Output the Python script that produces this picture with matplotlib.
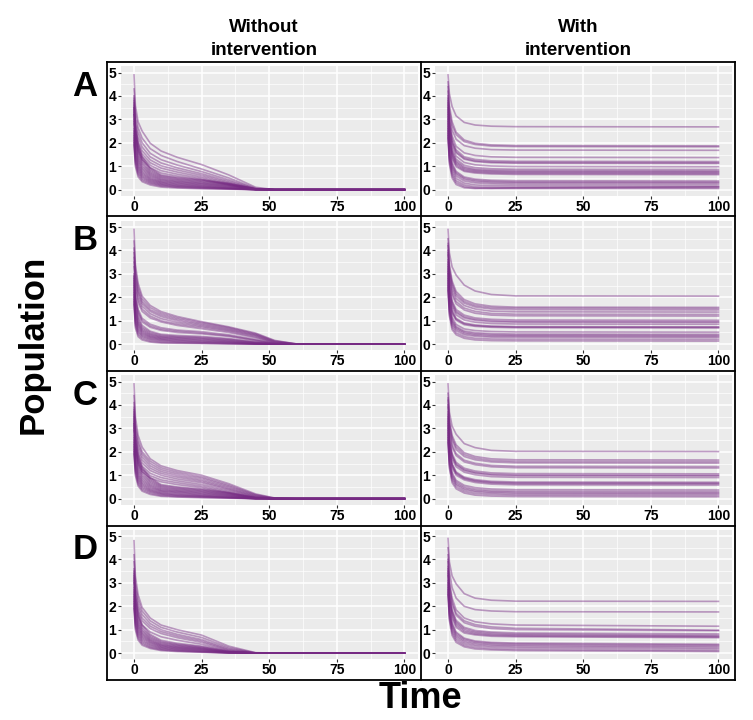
import matplotlib
matplotlib.use("Agg")
import matplotlib.pyplot as plt
from matplotlib.lines import Line2D

# Time points used for the trajectories
t_without = [0, 0.5, 1.5, 3, 6, 10, 16, 25, 35, 45, 52, 60, 100]
t_with = [0, 0.5, 1.5, 3, 6, 10, 16, 25, 100]

row_labels = ["A", "B", "C", "D"]
col_titles = ["Without\nintervention", "With\nintervention"]
x_ticks = [0, 25, 50, 75, 100]
y_ticks = [0, 1, 2, 3, 4, 5]

# Row A
A_without = [
    [4.9, 3.6, 2.9, 2.5, 1.98, 1.65, 1.38, 1.07, 0.63, 0.10, 0, 0, 0],
    [4.3, 3.3, 2.65, 2.2, 1.75, 1.46, 1.2, 0.88, 0.5, 0.06, 0, 0, 0],
    [4.0, 3.0, 2.45, 2.0, 1.55, 1.28, 1.05, 0.77, 0.42, 0.04, 0, 0, 0],
    [3.8, 2.8, 2.25, 1.82, 1.4, 1.14, 0.93, 0.68, 0.36, 0.03, 0, 0, 0],
    [3.6, 2.6, 2.05, 1.66, 1.27, 1.02, 0.84, 0.61, 0.31, 0.02, 0, 0, 0],
    [3.5, 2.5, 1.92, 1.52, 1.15, 0.92, 0.75, 0.54, 0.27, 0.02, 0, 0, 0],
    [3.3, 2.3, 1.78, 1.4, 1.04, 0.81, 0.66, 0.48, 0.23, 0.01, 0, 0, 0],
    [3.2, 2.2, 1.66, 1.28, 0.94, 0.71, 0.58, 0.43, 0.2, 0.01, 0, 0, 0],
    [3.9, 2.8, 2.0, 1.4, 0.92, 0.63, 0.52, 0.42, 0.27, 0.03, 0, 0, 0],
    [3.7, 2.6, 1.85, 1.3, 0.86, 0.59, 0.49, 0.39, 0.25, 0.03, 0, 0, 0],
    [3.5, 2.45, 1.72, 1.2, 0.8, 0.55, 0.45, 0.36, 0.23, 0.02, 0, 0, 0],
    [3.4, 2.3, 1.6, 1.12, 0.74, 0.51, 0.42, 0.33, 0.21, 0.02, 0, 0, 0],
    [3.2, 2.2, 1.5, 1.04, 0.69, 0.47, 0.38, 0.3, 0.19, 0.02, 0, 0, 0],
    [3.0, 2.05, 1.4, 0.96, 0.64, 0.43, 0.35, 0.27, 0.17, 0.01, 0, 0, 0],
    [2.9, 1.95, 1.3, 0.89, 0.59, 0.4, 0.32, 0.25, 0.15, 0.01, 0, 0, 0],
    [2.8, 1.85, 1.22, 0.82, 0.54, 0.36, 0.29, 0.22, 0.13, 0.01, 0, 0, 0],
    [2.6, 1.72, 1.12, 0.75, 0.49, 0.33, 0.26, 0.19, 0.11, 0.01, 0, 0, 0],
    [2.5, 1.6, 1.04, 0.69, 0.45, 0.3, 0.23, 0.17, 0.09, 0, 0, 0, 0],
    [2.4, 1.5, 0.96, 0.63, 0.41, 0.27, 0.2, 0.14, 0.07, 0, 0, 0, 0],
    [2.3, 1.4, 0.88, 0.57, 0.37, 0.24, 0.17, 0.12, 0.06, 0, 0, 0, 0],
    [2.2, 1.3, 0.8, 0.52, 0.33, 0.21, 0.15, 0.1, 0.05, 0, 0, 0, 0],
    [2.1, 1.2, 0.72, 0.46, 0.29, 0.18, 0.12, 0.08, 0.04, 0, 0, 0, 0],
    [2.0, 1.1, 0.64, 0.4, 0.25, 0.15, 0.1, 0.06, 0.03, 0, 0, 0, 0],
    [1.9, 1.0, 0.55, 0.34, 0.2, 0.11, 0.07, 0.04, 0.02, 0, 0, 0, 0],
]
A_with = [
    [4.9, 4.1, 3.55, 3.15, 2.87, 2.76, 2.71, 2.69, 2.68],
    [4.6, 3.6, 2.9, 2.45, 2.12, 1.98, 1.91, 1.88, 1.87],
    [4.4, 3.4, 2.75, 2.35, 2.05, 1.93, 1.86, 1.84, 1.83],
    [4.2, 3.2, 2.55, 2.15, 1.88, 1.77, 1.71, 1.69, 1.68],
    [4.0, 3.0, 2.3, 1.85, 1.57, 1.46, 1.4, 1.38, 1.37],
    [3.9, 2.9, 2.15, 1.7, 1.4, 1.29, 1.23, 1.21, 1.2],
    [3.8, 2.8, 2.05, 1.62, 1.34, 1.23, 1.18, 1.16, 1.15],
    [3.7, 2.7, 1.98, 1.57, 1.3, 1.2, 1.15, 1.13, 1.12],
    [3.6, 2.6, 1.85, 1.43, 1.16, 1.06, 1.01, 0.99, 0.98],
    [3.5, 2.45, 1.7, 1.3, 1.04, 0.94, 0.89, 0.87, 0.86],
    [3.4, 2.35, 1.62, 1.22, 0.97, 0.87, 0.83, 0.81, 0.8],
    [3.3, 2.25, 1.55, 1.16, 0.92, 0.83, 0.79, 0.77, 0.76],
    [3.2, 2.15, 1.48, 1.1, 0.87, 0.79, 0.75, 0.73, 0.72],
    [3.1, 2.05, 1.4, 1.04, 0.82, 0.75, 0.71, 0.69, 0.68],
    [3.0, 1.95, 1.32, 0.98, 0.78, 0.71, 0.67, 0.65, 0.64],
    [2.9, 1.8, 1.15, 0.78, 0.54, 0.45, 0.4, 0.38, 0.37],
    [2.8, 1.7, 1.06, 0.72, 0.49, 0.4, 0.35, 0.33, 0.32],
    [2.7, 1.6, 0.98, 0.66, 0.44, 0.35, 0.31, 0.29, 0.28],
    [2.6, 1.5, 0.9, 0.58, 0.37, 0.29, 0.25, 0.23, 0.22],
    [2.5, 1.4, 0.8, 0.48, 0.28, 0.2, 0.17, 0.16, 0.15],
    [2.4, 1.3, 0.7, 0.38, 0.2, 0.12, 0.1, 0.09, 0.09],
    [2.3, 1.2, 0.6, 0.3, 0.13, 0.07, 0.05, 0.05, 0.05],
    [2.2, 1.1, 0.5, 0.22, 0.08, 0.05, 0.06, 0.08, 0.12],
]

# Row B
B_without = [
    [4.9, 3.4, 2.6, 2.05, 1.65, 1.39, 1.18, 0.96, 0.74, 0.47, 0.16, 0.01, 0],
    [4.4, 3.2, 2.45, 1.93, 1.56, 1.32, 1.12, 0.92, 0.71, 0.44, 0.14, 0.01, 0],
    [4.1, 3.0, 2.3, 1.82, 1.47, 1.25, 1.06, 0.87, 0.67, 0.41, 0.12, 0.01, 0],
    [3.9, 2.85, 2.2, 1.73, 1.4, 1.18, 1.0, 0.82, 0.63, 0.38, 0.1, 0, 0],
    [3.7, 2.7, 2.05, 1.62, 1.3, 1.09, 0.93, 0.77, 0.59, 0.35, 0.08, 0, 0],
    [3.5, 2.5, 1.9, 1.5, 1.2, 1.0, 0.86, 0.72, 0.55, 0.31, 0.06, 0, 0],
    [3.3, 2.35, 1.78, 1.4, 1.12, 0.95, 0.8, 0.66, 0.5, 0.27, 0.05, 0, 0],
    [3.0, 2.1, 1.5, 1.1, 0.85, 0.7, 0.6, 0.53, 0.4, 0.2, 0.03, 0, 0],
    [2.9, 2.0, 1.4, 1.02, 0.78, 0.64, 0.55, 0.48, 0.36, 0.17, 0.02, 0, 0],
    [2.8, 1.9, 1.32, 0.95, 0.72, 0.59, 0.5, 0.44, 0.33, 0.15, 0.02, 0, 0],
    [2.9, 1.9, 1.2, 0.8, 0.55, 0.42, 0.37, 0.33, 0.24, 0.1, 0.01, 0, 0],
    [2.7, 1.7, 1.1, 0.72, 0.5, 0.38, 0.33, 0.29, 0.21, 0.08, 0.01, 0, 0],
    [2.6, 1.6, 1.0, 0.66, 0.45, 0.34, 0.3, 0.26, 0.18, 0.07, 0, 0, 0],
    [2.5, 1.5, 0.92, 0.6, 0.41, 0.31, 0.27, 0.23, 0.16, 0.05, 0, 0, 0],
    [2.4, 1.4, 0.85, 0.55, 0.37, 0.28, 0.24, 0.2, 0.13, 0.04, 0, 0, 0],
    [2.3, 1.3, 0.78, 0.5, 0.33, 0.25, 0.21, 0.17, 0.11, 0.03, 0, 0, 0],
    [2.2, 1.2, 0.7, 0.45, 0.3, 0.22, 0.18, 0.14, 0.09, 0.02, 0, 0, 0],
    [2.1, 1.1, 0.62, 0.4, 0.26, 0.19, 0.15, 0.11, 0.07, 0.01, 0, 0, 0],
    [2.0, 1.0, 0.55, 0.35, 0.22, 0.16, 0.12, 0.09, 0.05, 0.01, 0, 0, 0],
    [1.9, 0.9, 0.48, 0.3, 0.18, 0.12, 0.09, 0.06, 0.03, 0, 0, 0, 0],
    [1.8, 0.8, 0.4, 0.24, 0.13, 0.08, 0.06, 0.04, 0.02, 0, 0, 0, 0],
    [1.7, 0.7, 0.32, 0.18, 0.09, 0.05, 0.04, 0.03, 0.01, 0, 0, 0, 0],
]
B_with = [
    [4.9, 3.9, 3.3, 2.95, 2.52, 2.27, 2.12, 2.06, 2.05],
    [4.5, 3.4, 2.7, 2.25, 1.9, 1.72, 1.62, 1.58, 1.57],
    [4.3, 3.25, 2.6, 2.15, 1.82, 1.65, 1.56, 1.53, 1.52],
    [4.2, 3.15, 2.5, 2.06, 1.75, 1.59, 1.5, 1.47, 1.46],
    [4.0, 3.0, 2.35, 1.95, 1.65, 1.5, 1.41, 1.38, 1.37],
    [3.9, 2.85, 2.2, 1.82, 1.54, 1.4, 1.31, 1.28, 1.27],
    [3.8, 2.75, 2.1, 1.72, 1.46, 1.32, 1.24, 1.21, 1.2],
    [3.6, 2.55, 1.85, 1.48, 1.24, 1.12, 1.06, 1.03, 1.02],
    [3.5, 2.45, 1.78, 1.4, 1.17, 1.06, 1.0, 0.97, 0.96],
    [3.4, 2.35, 1.7, 1.34, 1.12, 1.02, 0.96, 0.94, 0.93],
    [3.3, 2.25, 1.6, 1.25, 1.03, 0.94, 0.88, 0.86, 0.85],
    [3.2, 2.1, 1.45, 1.1, 0.9, 0.82, 0.77, 0.75, 0.74],
    [3.1, 2.0, 1.38, 1.06, 0.87, 0.79, 0.75, 0.73, 0.72],
    [3.0, 1.95, 1.32, 1.02, 0.83, 0.76, 0.72, 0.7, 0.69],
    [2.9, 1.8, 1.15, 0.84, 0.65, 0.58, 0.54, 0.52, 0.51],
    [2.8, 1.7, 1.05, 0.75, 0.56, 0.49, 0.45, 0.43, 0.42],
    [2.7, 1.6, 0.98, 0.7, 0.51, 0.44, 0.4, 0.38, 0.37],
    [2.6, 1.5, 0.9, 0.64, 0.46, 0.39, 0.35, 0.34, 0.33],
    [2.5, 1.4, 0.82, 0.57, 0.4, 0.34, 0.3, 0.29, 0.28],
    [2.4, 1.3, 0.72, 0.48, 0.32, 0.25, 0.22, 0.21, 0.2],
    [2.3, 1.2, 0.62, 0.4, 0.25, 0.18, 0.15, 0.14, 0.13],
]

# Row C
C_without = [
    [4.9, 3.5, 2.7, 2.2, 1.7, 1.4, 1.2, 1.0, 0.64, 0.2, 0.03, 0, 0],
    [4.4, 3.2, 2.5, 2.0, 1.6, 1.32, 1.13, 0.93, 0.58, 0.17, 0.02, 0, 0],
    [4.1, 3.0, 2.35, 1.9, 1.5, 1.24, 1.06, 0.87, 0.53, 0.15, 0.01, 0, 0],
    [3.9, 2.8, 2.2, 1.78, 1.4, 1.16, 0.99, 0.8, 0.48, 0.12, 0.01, 0, 0],
    [3.7, 2.65, 2.05, 1.65, 1.3, 1.08, 0.92, 0.74, 0.43, 0.1, 0, 0, 0],
    [3.5, 2.5, 1.9, 1.52, 1.2, 1.0, 0.84, 0.68, 0.39, 0.08, 0, 0, 0],
    [3.3, 2.3, 1.75, 1.38, 1.08, 0.9, 0.76, 0.6, 0.34, 0.06, 0, 0, 0],
    [3.2, 2.2, 1.62, 1.26, 0.98, 0.8, 0.68, 0.53, 0.29, 0.05, 0, 0, 0],
    [3.1, 2.1, 1.5, 1.15, 0.88, 0.72, 0.6, 0.47, 0.25, 0.04, 0, 0, 0],
    [3.8, 2.7, 1.9, 1.35, 0.9, 0.6, 0.5, 0.41, 0.26, 0.04, 0, 0, 0],
    [3.6, 2.5, 1.75, 1.25, 0.84, 0.56, 0.47, 0.38, 0.24, 0.03, 0, 0, 0],
    [3.4, 2.35, 1.62, 1.15, 0.78, 0.52, 0.43, 0.35, 0.22, 0.03, 0, 0, 0],
    [3.2, 2.2, 1.5, 1.06, 0.72, 0.48, 0.4, 0.32, 0.2, 0.02, 0, 0, 0],
    [3.0, 2.05, 1.4, 0.98, 0.66, 0.44, 0.36, 0.29, 0.18, 0.02, 0, 0, 0],
    [2.9, 1.95, 1.3, 0.9, 0.6, 0.4, 0.33, 0.26, 0.16, 0.01, 0, 0, 0],
    [2.7, 1.8, 1.2, 0.82, 0.55, 0.36, 0.3, 0.23, 0.14, 0.01, 0, 0, 0],
    [2.6, 1.7, 1.1, 0.75, 0.5, 0.33, 0.27, 0.2, 0.12, 0.01, 0, 0, 0],
    [2.5, 1.6, 1.02, 0.68, 0.45, 0.3, 0.24, 0.17, 0.1, 0, 0, 0, 0],
    [2.4, 1.5, 0.94, 0.62, 0.4, 0.26, 0.2, 0.14, 0.08, 0, 0, 0, 0],
    [2.3, 1.4, 0.86, 0.56, 0.36, 0.23, 0.17, 0.12, 0.06, 0, 0, 0, 0],
    [2.2, 1.3, 0.78, 0.5, 0.32, 0.2, 0.14, 0.1, 0.05, 0, 0, 0, 0],
    [2.1, 1.2, 0.7, 0.44, 0.28, 0.17, 0.12, 0.08, 0.04, 0, 0, 0, 0],
    [2.0, 1.1, 0.62, 0.38, 0.23, 0.13, 0.09, 0.06, 0.03, 0, 0, 0, 0],
    [1.9, 1.0, 0.54, 0.32, 0.18, 0.1, 0.07, 0.04, 0.02, 0, 0, 0, 0],
]
C_with = [
    [4.9, 3.7, 3.1, 2.75, 2.35, 2.18, 2.06, 2.02, 2.01],
    [4.5, 3.4, 2.7, 2.3, 1.96, 1.8, 1.7, 1.66, 1.65],
    [4.3, 3.25, 2.6, 2.2, 1.88, 1.73, 1.63, 1.59, 1.58],
    [4.2, 3.15, 2.5, 2.1, 1.8, 1.66, 1.57, 1.53, 1.52],
    [4.0, 2.95, 2.3, 1.92, 1.64, 1.51, 1.42, 1.38, 1.37],
    [3.9, 2.85, 2.2, 1.84, 1.57, 1.45, 1.36, 1.32, 1.31],
    [3.7, 2.6, 1.92, 1.55, 1.3, 1.18, 1.1, 1.07, 1.06],
    [3.6, 2.5, 1.85, 1.48, 1.24, 1.12, 1.04, 1.01, 1.0],
    [3.5, 2.45, 1.8, 1.44, 1.2, 1.09, 1.01, 0.98, 0.97],
    [3.4, 2.35, 1.7, 1.36, 1.13, 1.02, 0.94, 0.91, 0.9],
    [3.3, 2.2, 1.5, 1.14, 0.92, 0.81, 0.74, 0.71, 0.7],
    [3.2, 2.1, 1.45, 1.1, 0.88, 0.77, 0.7, 0.67, 0.66],
    [3.1, 2.05, 1.4, 1.06, 0.85, 0.74, 0.67, 0.64, 0.63],
    [3.0, 1.95, 1.32, 1.0, 0.8, 0.69, 0.62, 0.59, 0.58],
    [2.9, 1.8, 1.12, 0.78, 0.57, 0.47, 0.41, 0.38, 0.37],
    [2.8, 1.7, 1.04, 0.71, 0.5, 0.4, 0.34, 0.31, 0.3],
    [2.7, 1.6, 0.96, 0.64, 0.44, 0.34, 0.29, 0.26, 0.25],
    [2.6, 1.5, 0.88, 0.58, 0.38, 0.29, 0.24, 0.21, 0.2],
    [2.5, 1.4, 0.78, 0.5, 0.31, 0.22, 0.18, 0.15, 0.14],
    [2.4, 1.3, 0.68, 0.42, 0.24, 0.15, 0.11, 0.09, 0.08],
]

# Row D
D_without = [
    [4.8, 3.3, 2.5, 1.95, 1.5, 1.2, 1.0, 0.77, 0.3, 0.02, 0, 0, 0],
    [4.2, 3.0, 2.3, 1.8, 1.38, 1.1, 0.9, 0.67, 0.24, 0.01, 0, 0, 0],
    [3.9, 2.8, 2.1, 1.65, 1.26, 1.0, 0.8, 0.58, 0.19, 0.01, 0, 0, 0],
    [3.6, 2.6, 1.95, 1.5, 1.15, 0.92, 0.73, 0.52, 0.15, 0, 0, 0, 0],
    [3.4, 2.4, 1.8, 1.38, 1.05, 0.84, 0.66, 0.46, 0.12, 0, 0, 0, 0],
    [3.2, 2.2, 1.6, 1.2, 0.9, 0.7, 0.55, 0.38, 0.09, 0, 0, 0, 0],
    [3.5, 2.5, 1.75, 1.2, 0.8, 0.55, 0.42, 0.3, 0.08, 0, 0, 0, 0],
    [3.3, 2.3, 1.6, 1.1, 0.74, 0.5, 0.38, 0.27, 0.07, 0, 0, 0, 0],
    [3.1, 2.15, 1.48, 1.02, 0.68, 0.46, 0.35, 0.24, 0.06, 0, 0, 0, 0],
    [3.0, 2.0, 1.38, 0.95, 0.63, 0.42, 0.32, 0.22, 0.05, 0, 0, 0, 0],
    [2.8, 1.9, 1.28, 0.88, 0.58, 0.38, 0.29, 0.2, 0.04, 0, 0, 0, 0],
    [2.7, 1.8, 1.2, 0.82, 0.54, 0.35, 0.26, 0.18, 0.04, 0, 0, 0, 0],
    [2.6, 1.7, 1.12, 0.76, 0.5, 0.32, 0.24, 0.16, 0.03, 0, 0, 0, 0],
    [2.5, 1.6, 1.04, 0.7, 0.46, 0.29, 0.21, 0.14, 0.03, 0, 0, 0, 0],
    [2.4, 1.5, 0.96, 0.64, 0.42, 0.26, 0.19, 0.12, 0.02, 0, 0, 0, 0],
    [2.3, 1.4, 0.88, 0.58, 0.37, 0.23, 0.16, 0.1, 0.02, 0, 0, 0, 0],
    [2.2, 1.3, 0.8, 0.52, 0.33, 0.2, 0.14, 0.08, 0.01, 0, 0, 0, 0],
    [2.1, 1.2, 0.72, 0.46, 0.28, 0.17, 0.11, 0.06, 0.01, 0, 0, 0, 0],
    [2.0, 1.1, 0.64, 0.4, 0.24, 0.14, 0.09, 0.05, 0.01, 0, 0, 0, 0],
    [1.9, 1.0, 0.56, 0.34, 0.2, 0.11, 0.07, 0.04, 0, 0, 0, 0, 0],
]
D_with = [
    [4.9, 3.9, 3.3, 2.96, 2.54, 2.35, 2.26, 2.22, 2.21],
    [4.5, 3.5, 2.8, 2.35, 2.0, 1.86, 1.8, 1.77, 1.76],
    [4.2, 3.1, 2.35, 1.85, 1.5, 1.34, 1.25, 1.2, 1.15],
    [4.0, 2.95, 2.2, 1.7, 1.38, 1.22, 1.12, 1.06, 0.98],
    [3.9, 2.85, 2.1, 1.62, 1.3, 1.15, 1.05, 1.0, 0.96],
    [3.7, 2.6, 1.85, 1.4, 1.1, 0.97, 0.9, 0.86, 0.82],
    [3.6, 2.5, 1.78, 1.33, 1.04, 0.92, 0.85, 0.81, 0.76],
    [3.5, 2.4, 1.7, 1.26, 0.98, 0.87, 0.8, 0.77, 0.72],
    [3.4, 2.3, 1.6, 1.18, 0.92, 0.82, 0.76, 0.73, 0.69],
    [3.3, 2.2, 1.5, 1.1, 0.86, 0.78, 0.72, 0.7, 0.66],
    [3.1, 2.0, 1.3, 0.9, 0.64, 0.52, 0.46, 0.43, 0.38],
    [3.0, 1.9, 1.22, 0.84, 0.59, 0.48, 0.42, 0.39, 0.34],
    [2.9, 1.8, 1.14, 0.77, 0.53, 0.43, 0.37, 0.34, 0.29],
    [2.8, 1.7, 1.06, 0.7, 0.47, 0.37, 0.32, 0.29, 0.24],
    [2.7, 1.6, 0.96, 0.62, 0.4, 0.31, 0.26, 0.23, 0.18],
    [2.6, 1.5, 0.86, 0.54, 0.33, 0.24, 0.19, 0.16, 0.11],
    [2.5, 1.4, 0.76, 0.46, 0.27, 0.18, 0.14, 0.11, 0.07],
]

panels = [
    (A_without, A_with),
    (B_without, B_with),
    (C_without, C_with),
    (D_without, D_with),
]

# Figure geometry (pixels)
W, H = 753, 720
frame_x = [107, 421, 735]
frame_y = [62, 216.5, 371, 525.5, 680]
PURPLE = "#762A83"

plt.rcParams["font.family"] = ["Liberation Sans", "DejaVu Sans"]
plt.rcParams["font.weight"] = "bold"

fig = plt.figure(figsize=(W / 100, H / 100), dpi=100)


def fx(px):
    return px / W


def fy(py):
    return 1 - py / H


def draw_panel(ax, t, lines):
    ax.set_facecolor("#EBEBEB")
    for v in lines:
        ax.plot(t, v, color=PURPLE, alpha=0.45, lw=1.2, solid_joinstyle="round")
    ax.set_xlim(-5, 105)
    ax.set_ylim(-0.25, 5.28)
    ax.set_xticks(x_ticks)
    ax.set_xticks([12.5, 37.5, 62.5, 87.5], minor=True)
    ax.set_yticks(y_ticks)
    ax.set_yticks([0.5, 1.5, 2.5, 3.5, 4.5], minor=True)
    ax.grid(which="major", color="white", lw=1.1)
    ax.grid(which="minor", color="white", lw=0.5)
    ax.set_axisbelow(True)
    for s in ax.spines.values():
        s.set_visible(False)
    ax.tick_params(which="major", length=2, width=0.8, color="#333333",
                   labelsize=10, pad=1, labelcolor="black")
    ax.tick_params(which="minor", length=0)
    for lab in ax.get_xticklabels() + ax.get_yticklabels():
        lab.set_fontweight("bold")
        lab.set_fontstretch("condensed")


for r, (left_lines, right_lines) in enumerate(panels):
    y0, y1 = frame_y[r], frame_y[r + 1]
    for c, (t, lines) in enumerate([(t_without, left_lines), (t_with, right_lines)]):
        x0, x1 = frame_x[c], frame_x[c + 1]
        gl, gr = x0 + 13.5, x1 - 3
        gt, gb = y0 + 4, y1 - 21
        ax = fig.add_axes([fx(gl), fy(gb), fx(gr - gl), (gb - gt) / H])
        draw_panel(ax, t, lines)
    fig.text(fx(85), fy(y0 + 24), row_labels[r], fontsize=25, fontweight="bold",
             ha="center", va="center")

# Panel frames
for xp in frame_x:
    fig.add_artist(Line2D([fx(xp), fx(xp)], [fy(frame_y[0]), fy(frame_y[-1])],
                          color="black", lw=1.3, transform=fig.transFigure))
for yp in frame_y:
    fig.add_artist(Line2D([fx(frame_x[0]), fx(frame_x[-1])], [fy(yp), fy(yp)],
                          color="black", lw=1.3, transform=fig.transFigure))

# Column titles
for c, title in enumerate(col_titles):
    xc = (frame_x[c] + frame_x[c + 1]) / 2
    fig.text(fx(xc), fy(59), title, fontsize=13.5, fontweight="bold",
             ha="center", va="bottom", linespacing=1.45)

fig.text(fx(33), fy(344), "Population", fontsize=25, fontweight="bold",
         rotation=90, ha="center", va="center")
fig.text(fx(420), fy(698), "Time", fontsize=26, fontweight="bold",
         ha="center", va="center")

fig.savefig("out.png", dpi=100)
